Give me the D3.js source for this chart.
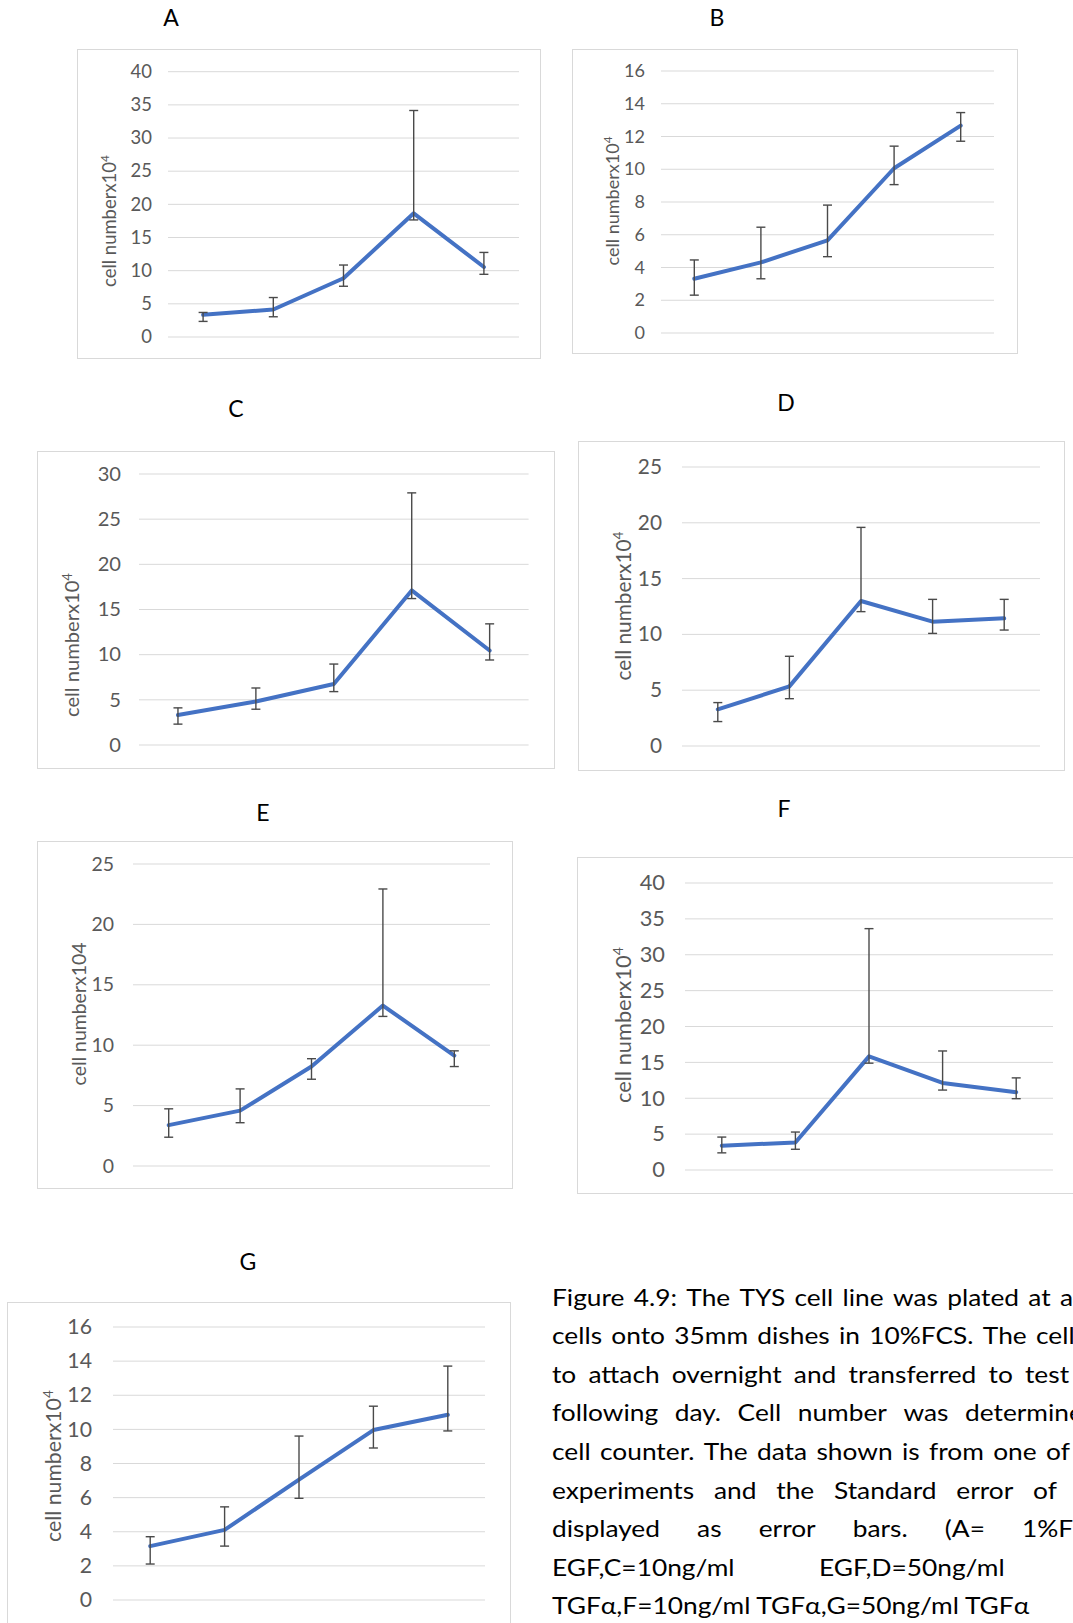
<!DOCTYPE html>
<html>
<head>
<meta charset="utf-8">
<script src="https://cdn.jsdelivr.net/npm/d3@7/dist/d3.min.js"></script>
<style>
  body { margin: 0; background: #fff; }
  svg { display: block; }
</style>
</head>
<body>
<svg id="fig" width="1073" height="1623"></svg>
<script>
// Time points along the x axis (unlabelled in the figure)
const timePoints = ["d1", "d2", "d3", "d4", "d5"];

// Panel A – 1% FCS
const meanA = [3.2, 4.0, 8.7, 18.5, 10.4];
const upA   = [0.35, 1.8, 2.0, 15.5, 2.2];
const downA = [1.0, 1.1, 1.2, 1.0, 1.1];
const ticksA = [0, 5, 10, 15, 20, 25, 30, 35, 40];

// Panel B
const meanB = [3.25, 4.25, 5.6, 10.0, 12.6];
const upB   = [1.15, 2.15, 2.15, 1.35, 0.8];
const downB = [1.0, 1.0, 1.0, 1.0, 0.95];
const ticksB = [0, 2, 4, 6, 8, 10, 12, 14, 16];

// Panel C – 10 ng/ml EGF
const meanC = [3.2, 4.7, 6.65, 17.0, 10.35];
const upC   = [0.8, 1.5, 2.2, 10.8, 2.95];
const downC = [1.0, 0.85, 0.85, 0.9, 1.05];
const ticksC = [0, 5, 10, 15, 20, 25, 30];

// Panel D – 50 ng/ml EGF
const meanD = [3.2, 5.25, 12.9, 11.05, 11.35];
const upD   = [0.6, 2.7, 6.6, 2.0, 1.7];
const downD = [1.1, 1.1, 0.95, 1.05, 1.05];
const ticksD = [0, 5, 10, 15, 20, 25];

// Panel E
const meanE = [3.3, 4.5, 8.15, 13.2, 9.05];
const upE   = [1.35, 1.8, 0.65, 9.65, 0.4];
const downE = [1.0, 1.0, 1.05, 0.9, 0.9];
const ticksE = [0, 5, 10, 15, 20, 25];

// Panel F – 10 ng/ml TGFα
const meanF = [3.25, 3.7, 15.7, 12.0, 10.7];
const upF   = [1.2, 1.45, 17.8, 4.45, 2.0];
const downF = [1.0, 0.95, 0.95, 1.0, 0.9];
const ticksF = [0, 5, 10, 15, 20, 25, 30, 35, 40];

// Panel G – 50 ng/ml TGFα
const meanG = [3.1, 4.05, 7.0, 9.9, 10.8];
const upG   = [0.55, 1.35, 2.55, 1.4, 2.85];
const downG = [1.05, 0.95, 1.1, 1.05, 0.95];
const ticksG = [0, 2, 4, 6, 8, 10, 12, 14, 16];

// Figure caption (justified text running past the right edge of the page)
const captionLines = [
  "Figure 4.9: The TYS cell line was plated at an",
  "cells onto 35mm dishes in 10%FCS. The cells",
  "to attach overnight and transferred to test",
  "following day. Cell number was determined",
  "cell counter. The data shown is from one of",
  "experiments and the Standard error of",
  "displayed as error bars. (A= 1%FCS",
  "EGF,C=10ng/ml EGF,D=50ng/ml",
  "TGFα,F=10ng/ml TGFα,G=50ng/ml TGFα"
];

// Layout of each panel
const panels = [
  { name: "A", mean: meanA, up: upA, down: downA, ticks: ticksA,
    frame: [77, 49, 540, 358], px: [168, 519], py: [336, 70.7], tickRight: 152,
    labelX: 109, labelY: 221, labelLen: 132, title: [171, 26], label: "cell numberx10", sup: "4" },
  { name: "B", mean: meanB, up: upB, down: downB, ticks: ticksB,
    frame: [572, 49, 1017, 353], px: [661, 994], py: [332, 70], tickRight: 645,
    labelX: 612, labelY: 201, labelLen: 129, title: [717, 26], label: "cell numberx10", sup: "4" },
  { name: "C", mean: meanC, up: upC, down: downC, ticks: ticksC,
    frame: [37, 451, 554, 768], px: [139, 528.6], py: [744, 473], tickRight: 121,
    labelX: 72, labelY: 645, labelLen: 144, title: [236, 417], label: "cell numberx10", sup: "4" },
  { name: "D", mean: meanD, up: upD, down: downD, ticks: ticksD,
    frame: [578, 441, 1064, 770], px: [682, 1040], py: [745, 466], tickRight: 662,
    labelX: 623, labelY: 606, labelLen: 149, title: [786, 411], label: "cell numberx10", sup: "4" },
  { name: "E", mean: meanE, up: upE, down: downE, ticks: ticksE,
    frame: [37, 841, 512, 1188], px: [133, 490], py: [1165, 863], tickRight: 114,
    labelX: 79, labelY: 1014, labelLen: 143, title: [263, 821], label: "cell numberx104", sup: null },
  { name: "F", mean: meanF, up: upF, down: downF, ticks: ticksF,
    frame: [577, 857, 1090, 1193], px: [685, 1053], py: [1169, 882], tickRight: 665,
    labelX: 623, labelY: 1025, labelLen: 156, title: [784, 817], label: "cell numberx10", sup: "4" },
  { name: "G", mean: meanG, up: upG, down: downG, ticks: ticksG,
    frame: [7, 1302, 510, 1660], px: [113, 485], py: [1599, 1326], tickRight: 92,
    labelX: 53, labelY: 1466, labelLen: 152, title: [248, 1270], label: "cell numberx10", sup: "4" }
];

const FONT = "Lato, 'Open Sans', sans-serif";
const svg = d3.select("#fig");

function textWidth(str, size) {
  const t = svg.append("text").attr("font-family", FONT).attr("font-size", size).text(str);
  const w = t.node().getComputedTextLength();
  t.remove();
  return w;
}

// Size the axis text so the y-axis title spans its measured length
function fitFont(p) {
  const probe = svg.append("text").attr("font-family", FONT).attr("font-size", 100).text(p.label);
  if (p.sup) probe.append("tspan").attr("font-size", 65).text(p.sup);
  const len = probe.node().getComputedTextLength();
  probe.remove();
  return 100 * p.labelLen / len;
}

panels.forEach(p => {
  const g = svg.append("g");
  const [fx0, fy0, fx1, fy1] = p.frame;

  g.append("rect")
    .attr("x", fx0 + 0.5).attr("y", fy0 + 0.5)
    .attr("width", fx1 - fx0).attr("height", fy1 - fy0)
    .attr("fill", "#fff").attr("stroke", "#d9d9d9").attr("stroke-width", 1);

  const x = d3.scaleBand().domain(timePoints).range(p.px).padding(0);
  const y = d3.scaleLinear().domain([0, d3.max(p.ticks)]).range(p.py);
  const fs = fitFont(p);

  // gridlines and tick labels
  const axis = d3.axisLeft(y)
    .tickValues(p.ticks)
    .tickSize(-(p.px[1] - p.px[0]))
    .tickPadding(p.px[0] - p.tickRight)
    .tickFormat(d3.format("d"));
  const ag = g.append("g").attr("transform", `translate(${p.px[0]},0)`).call(axis);
  ag.select(".domain").remove();
  ag.selectAll(".tick line").attr("stroke", "#d9d9d9").attr("stroke-width", 1)
    .attr("transform", "translate(0,0.5)");
  ag.selectAll(".tick text")
    .attr("fill", "#595959").attr("font-family", FONT).attr("font-size", fs)
    .attr("dy", "0.36em");

  // y-axis title
  const lab = g.append("text")
    .attr("transform", `translate(${p.labelX},${p.labelY}) rotate(-90)`)
    .attr("text-anchor", "middle").attr("dy", "0.36em")
    .attr("fill", "#595959").attr("font-family", FONT).attr("font-size", fs)
    .text(p.label);
  if (p.sup) lab.append("tspan").attr("font-size", fs * 0.65).attr("dy", -fs * 0.38).text(p.sup);

  // data line
  const pts = timePoints.map((t, i) => ({ t, v: p.mean[i], up: p.up[i], down: p.down[i] }));
  const cx = d => x(d.t) + x.bandwidth() / 2;
  g.append("path")
    .datum(pts)
    .attr("d", d3.line().x(cx).y(d => y(d.v)))
    .attr("fill", "none").attr("stroke", "#4472c4").attr("stroke-width", 4)
    .attr("stroke-linejoin", "round").attr("stroke-linecap", "round");

  // error bars
  const eb = g.append("g").attr("stroke", "#4a4a4a").attr("stroke-width", 1.4).attr("fill", "none");
  const cap = 4.5;
  pts.forEach(d => {
    const xc = cx(d), yt = y(d.v + d.up), yb = y(d.v - d.down);
    eb.append("line").attr("x1", xc).attr("x2", xc).attr("y1", yt).attr("y2", yb);
    eb.append("line").attr("x1", xc - cap).attr("x2", xc + cap).attr("y1", yt).attr("y2", yt);
    eb.append("line").attr("x1", xc - cap).attr("x2", xc + cap).attr("y1", yb).attr("y2", yb);
  });

  // panel letter
  svg.append("text")
    .attr("x", p.title[0]).attr("y", p.title[1])
    .attr("text-anchor", "middle")
    .attr("font-family", FONT).attr("font-size", 23).attr("fill", "#000")
    .text(p.name);
});

// Caption block: justified lines, each word placed so the line spreads to its width
const capX = 552, capY0 = 1305.5, capStep = 38.6, capFs = 23.5;
const capScale = 477.5 / textWidth(captionLines[8], capFs);
// x at which the last word of each line starts (null = natural spacing)
const lastWordX = [1060, 1036, 1025, 965, 1046, 1033, 1022, 819, null];

const capG = svg.append("g").attr("font-family", FONT).attr("font-size", capFs).attr("fill", "#000");
captionLines.forEach((line, i) => {
  const yy = capY0 + i * capStep;
  if (lastWordX[i] === null) {
    capG.append("text").attr("transform", `translate(${capX},${yy}) scale(${capScale},1)`).text(line);
    return;
  }
  const words = line.split(" ");
  const widths = words.map(w => textWidth(w, capFs) * capScale);
  const before = d3.sum(widths.slice(0, -1));
  const gap = (lastWordX[i] - capX - before) / (words.length - 1);
  let xx = capX;
  words.forEach((w, k) => {
    capG.append("text").attr("transform", `translate(${xx},${yy}) scale(${capScale},1)`).text(w);
    xx += widths[k] + gap;
  });
});
</script>
</body>
</html>
